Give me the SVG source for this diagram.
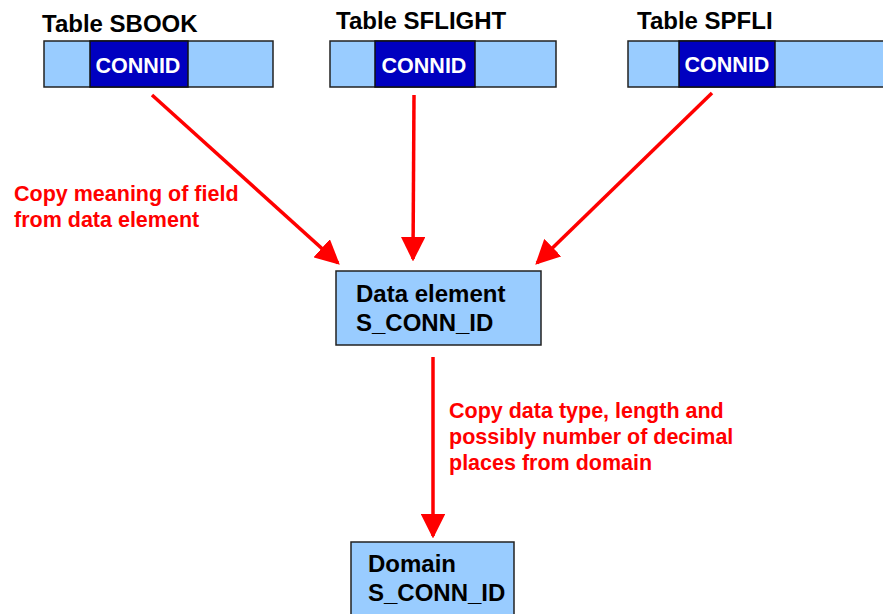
<svg xmlns="http://www.w3.org/2000/svg" width="883" height="614" viewBox="0 0 883 614">
<style>
text{font-family:"Liberation Sans",Arial,sans-serif;font-weight:bold}
.title{font-size:24px;fill:#000}
.fld{font-size:21.5px;fill:#fff}
.box{fill:#99ccff;stroke:#222;stroke-width:1.5}
.key{fill:#0000c0;stroke:#111;stroke-width:1.5}
.lbl{font-size:21.5px;fill:#ff0000}
.node{font-size:24px;fill:#000}
.conn line{stroke:#ff0000;stroke-width:3.5}
</style>
<defs>
<marker id="ah" viewBox="0 0 10 10" refX="9" refY="5" markerWidth="7" markerHeight="7" markerUnits="strokeWidth" orient="auto">
<path d="M0,0 L10,5 L0,10 z" fill="#ff0000"/>
</marker>
</defs>
<g id="sbook">
<text class="title" x="42" y="32">Table SBOOK</text>
<rect class="box" x="44" y="41" width="229" height="46"/>
<rect class="key" x="90" y="41" width="98" height="46"/>
<text class="fld" x="138" y="73" text-anchor="middle">CONNID</text>
</g>
<g id="sflight">
<text class="title" x="336" y="29">Table SFLIGHT</text>
<rect class="box" x="330" y="41" width="226" height="46"/>
<rect class="key" x="375" y="41" width="100" height="46"/>
<text class="fld" x="424" y="73" text-anchor="middle">CONNID</text>
</g>
<g id="spfli">
<text class="title" x="637" y="29">Table SPFLI</text>
<rect class="box" x="628" y="41" width="260" height="46"/>
<rect class="key" x="679" y="41" width="96" height="46"/>
<text class="fld" x="727" y="72" text-anchor="middle">CONNID</text>
</g>
<g id="dataelement">
<rect class="box" x="336" y="271" width="205" height="74"/>
<text class="node" x="356" y="302">Data element</text>
<text class="node" x="356" y="331">S_CONN_ID</text>
</g>
<g id="domain">
<rect class="box" x="351" y="542" width="163" height="76"/>
<text class="node" x="368" y="572">Domain</text>
<text class="node" x="368" y="601">S_CONN_ID</text>
</g>
<g class="conn" id="connectors">
<line x1="152" y1="95" x2="338" y2="263" marker-end="url(#ah)"/>
<line x1="414" y1="95" x2="413" y2="259" marker-end="url(#ah)"/>
<line x1="712" y1="93" x2="537" y2="263" marker-end="url(#ah)"/>
<line x1="433" y1="357" x2="433" y2="536" marker-end="url(#ah)"/>
</g>
<g id="labels">
<text class="lbl" x="14" y="201">Copy meaning of field</text>
<text class="lbl" x="14" y="227">from data element</text>
<text class="lbl" x="449" y="418">Copy data type, length and</text>
<text class="lbl" x="449" y="444">possibly number of decimal</text>
<text class="lbl" x="449" y="470">places from domain</text>
</g>
</svg>
